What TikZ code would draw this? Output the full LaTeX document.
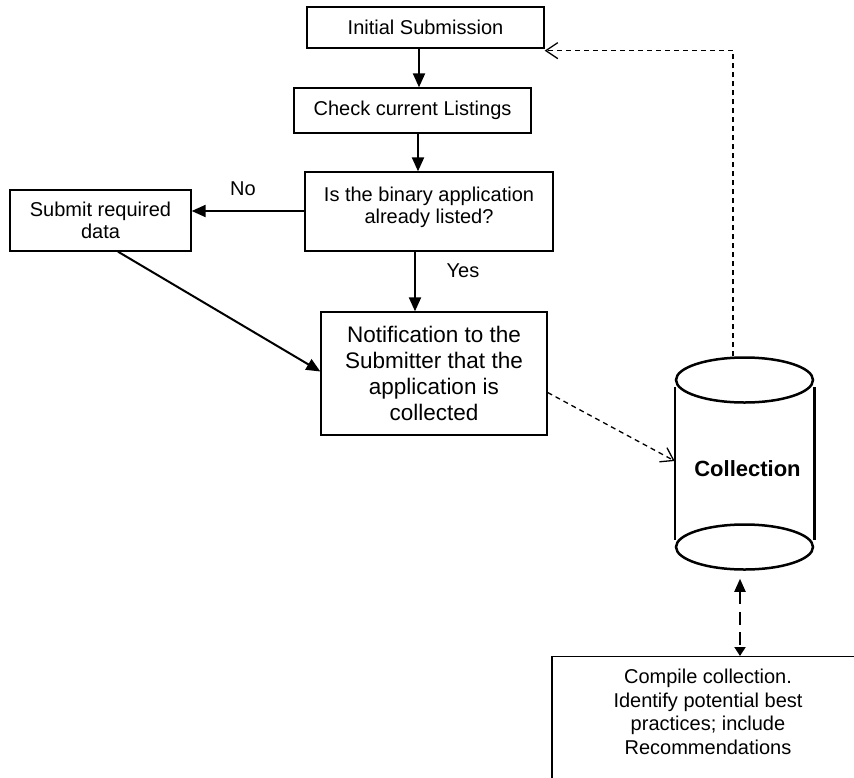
\documentclass[tikz,border=0pt]{standalone}
\usepackage{fontspec}
\setmainfont{Liberation Sans}
\usetikzlibrary{arrows.meta,shapes.geometric,calc}
\begin{document}
\begin{tikzpicture}[x=1pt,y=-1pt,
  box/.style={draw, line width=1.3pt, align=center, inner sep=0pt, font=\fontsize{20}{22}\selectfont},
  lbl/.style={align=center, inner sep=0pt, font=\fontsize{20}{22}\selectfont},
  arr/.style={line width=2pt, -{Triangle[length=14pt,width=12pt]}},
  darr/.style={line width=1.3pt, dash pattern=on 5pt off 4pt, -{Straight Barb[length=12pt,width=16pt,line width=1.3pt]}},
  cyl/.style={draw, line width=2.5pt, ellipse, inner sep=0pt}]
\useasboundingbox (0,0) rectangle (854,777);
\clip (0,0) rectangle (854,777);
% boxes
\node[box, minimum width=237pt, minimum height=41pt] (init) at (425.5,27.5) {Initial Submission};
\node[box, minimum width=237pt, minimum height=45pt] (check) at (412.5,110.5) {Check current Listings};
\node[box, minimum width=248pt, minimum height=79pt,
  label={[lbl, yshift=4.5pt]center:Is the binary application\\already listed?}] (isq) at (429,211.5) {};
\node[box, minimum width=181pt, minimum height=61pt] (submit) at (100.5,220.5) {Submit required\\data};
\node[box, minimum width=226pt, minimum height=123pt, font=\fontsize{22.5}{26}\selectfont] (notif) at (434,373.5)
  {Notification to the\\Submitter that the\\application is\\collected};
% cylinder
\node[cyl, minimum width=137pt, minimum height=45pt] (ctop) at (744.5,380) {};
\node[cyl, minimum width=137pt, minimum height=45pt] (cbot) at (744.5,547) {};
\draw[line width=2.5pt] ([yshift=-7pt]ctop.west) -- ([yshift=7pt]cbot.west);
\draw[line width=2.5pt] ([yshift=-7pt]ctop.east) -- ([yshift=7pt]cbot.east);
\node[inner sep=0pt, font=\fontsize{22}{24}\selectfont\bfseries] (coll) at (747.5,469) {Collection};
% compile box
\node[draw, line width=1.3pt, minimum width=312pt, minimum height=170pt, anchor=north, inner sep=0pt] (comp) at (708,656) {};
\node[lbl, anchor=north, font=\fontsize{20}{23.5}\selectfont] (comptext) at ([yshift=-13pt]comp.north)
  {Compile collection.\\Identify potential best\\practices; include\\Recommendations};
% labels
\node[lbl] (no) at (243,189) {No};
\node[lbl] (yes) at (463,271) {Yes};
% connectors
\draw[arr] ([xshift=-6.5pt]init.south) -- ([xshift=6.5pt]check.north);
\draw[arr] ([xshift=5.5pt]check.south) -- ([xshift=-11pt]isq.north);
\draw[arr] ([yshift=0.5pt]isq.west) -- ([yshift=0.5pt]isq.west -| submit.east);
\draw[arr] ([xshift=-14pt]isq.south) -- ([xshift=-19pt]notif.north);
\draw[arr] ([xshift=17.5pt]submit.south) -- ([yshift=2pt]notif.west);
\draw[darr] ([yshift=-19pt]notif.east) -- ($(ctop.west)+(0,81)$);
\draw[darr] ([xshift=-11.5pt]ctop.north) |- ([yshift=-2pt]init.south east);
\coordinate (dtop) at ([xshift=-4.5pt,yshift=-8pt]cbot.south);
\draw[line width=2pt, dash pattern=on 13pt off 7.5pt, {Triangle[length=13pt,width=11pt]}-{Triangle[length=9pt,width=11pt]}]
  (dtop) -- (dtop |- comp.north);
\end{tikzpicture}
\end{document}
